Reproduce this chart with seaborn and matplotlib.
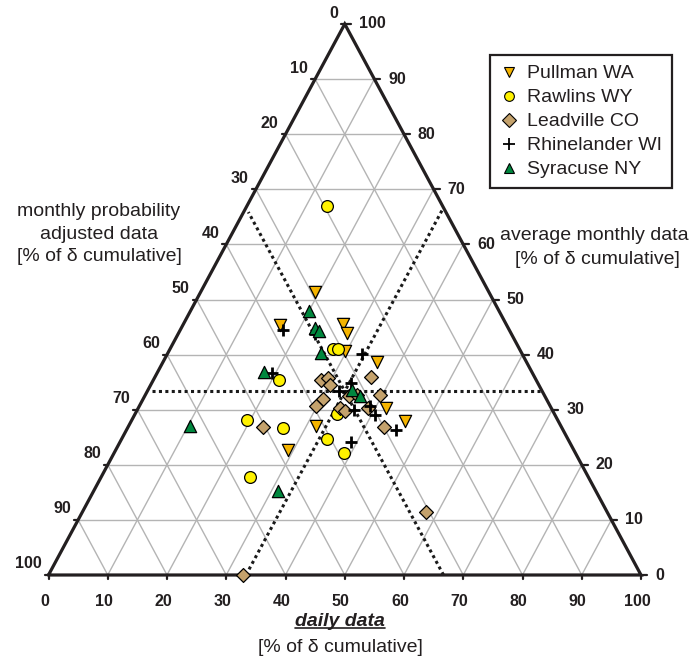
import numpy as np
import pandas as pd
import matplotlib
matplotlib.use("Agg")
import matplotlib.pyplot as plt
import seaborn as sns
from matplotlib.lines import Line2D
from matplotlib.transforms import IdentityTransform

sns.set_theme(style="white")
plt.rcParams['font.family'] = ['Liberation Sans', 'DejaVu Sans']

# ---------------- data (percent: daily D, monthly-probability M, average-monthly A)
stations = ["Pullman WA", "Rawlins WY", "Leadville CO", "Rhinelander WI", "Syracuse NY"]

pullman_D = [19.3, 16.3, 26.9, 28.4, 29.8, 36.1, 41.8, 46.2, 31.7, 29.1]
pullman_M = [29.4, 38.3, 27.5, 27.7, 29.6, 25.3, 27.9, 25.9, 41.3, 48.2]
pullman_A = [51.3, 45.4, 45.6, 43.9, 40.6, 38.6, 30.3, 27.9, 27.0, 22.7]

rawlins_D = [13.5, 27.6, 28.4, 21.2, 34.0, 19.4, 26.3, 34.6, 38.8, 25.1]
rawlins_M = [19.5, 31.4, 30.6, 43.4, 36.7, 52.4, 47.0, 40.7, 39.0, 57.1]
rawlins_A = [67.0, 41.0, 41.0, 35.4, 29.3, 28.2, 26.7, 24.7, 22.2, 17.8]

leadville_D = [28.3, 29.4, 30.3, 30.4, 29.9, 36.4, 39.7, 34.6, 35.8, 38.8, 34.0, 35.1, 43.1, 22.7, 58.0, 32.9]
leadville_M = [36.3, 34.9, 35.3, 37.6, 39.5, 27.6, 27.7, 33.0, 31.6, 30.9, 35.7, 35.1, 30.0, 50.4, 30.5, 67.1]
leadville_A = [35.4, 35.7, 34.4, 32.0, 30.6, 36.0, 32.6, 32.4, 32.6, 30.3, 30.3, 29.8, 26.9, 26.9, 11.5, 0.0]

rhine_D = [17.4, 23.0, 32.8, 19.5, 33.6, 32.4, 36.5, 39.0, 40.6, 45.5, 38.9]
rhine_M = [38.2, 33.2, 27.1, 43.9, 31.6, 34.2, 33.5, 30.4, 30.3, 28.1, 36.9]
rhine_A = [44.4, 43.8, 40.1, 36.6, 34.8, 33.4, 30.0, 30.6, 29.1, 26.4, 24.2]

syr_D = [20.1, 22.6, 23.6, 25.8, 17.9, 34.4, 36.3, 10.3, 31.0]
syr_M = [32.0, 32.5, 32.2, 33.9, 45.2, 32.0, 31.3, 62.6, 53.7]
syr_A = [47.9, 44.9, 44.2, 40.3, 36.9, 33.6, 32.4, 27.1, 15.3]

ticks = [0, 10, 20, 30, 40, 50, 60, 70, 80, 90, 100]
third = 100.0 / 3.0

colors = {"Pullman WA": "#F5B400", "Rawlins WY": "#FFF200", "Leadville CO": "#C4A26C",
          "Rhinelander WI": "#000000", "Syracuse NY": "#00873E"}
markers = {"Pullman WA": "v", "Rawlins WY": "o", "Leadville CO": "D",
           "Rhinelander WI": "+", "Syracuse NY": "^"}
sizes = {"Pullman WA": 78, "Rawlins WY": 72, "Leadville CO": 50,
         "Rhinelander WI": 70, "Syracuse NY": 78}


def tern(d, m, a):
    d = np.asarray(d, float); m = np.asarray(m, float); a = np.asarray(a, float)
    s = d + m + a
    d = 100 * d / s
    a = 100 * a / s
    return d + a / 2.0, a


frames = []
for name, (D, M, A) in zip(stations, [(pullman_D, pullman_M, pullman_A),
                                      (rawlins_D, rawlins_M, rawlins_A),
                                      (leadville_D, leadville_M, leadville_A),
                                      (rhine_D, rhine_M, rhine_A),
                                      (syr_D, syr_M, syr_A)]):
    x, y = tern(D, M, A)
    frames.append(pd.DataFrame({"x": x, "y": y, "station": name}))
df = pd.concat(frames, ignore_index=True)

# ---------------- figure
W, H = 689, 662
fig = plt.figure(figsize=(W / 100, H / 100), dpi=100)
ax = fig.add_axes([0, 0, 1, 1])
PX = 5.925  # pixels per unit x
PY = 5.51   # pixels per unit y
XLIM = (-48.5 / PX, (W - 48.5) / PX)
YLIM = ((575 - H) / PY, 575 / PY)

edge = "#231f20"
grid = "#b4b4b4"

# grid lines
for k in ticks[1:-1]:
    x, y = tern([0, 100 - k], [100 - k, 0], [k, k])
    ax.plot(x, y, color=grid, lw=1.0, zorder=1)
    x, y = tern([k, k], [100 - k, 0], [0, 100 - k])
    ax.plot(x, y, color=grid, lw=1.0, zorder=1)
    x, y = tern([100 - k, 0], [k, k], [0, 100 - k])
    ax.plot(x, y, color=grid, lw=1.0, zorder=1)

# triangle frame
x, y = tern([0, 100, 0, 0], [100, 0, 0, 100], [0, 0, 100, 0])
ax.plot(x, y, color=edge, lw=2.3, zorder=3, solid_joinstyle='miter')

# tick marks and labels
tfs = 11.5
for k in ticks:
    bx, by = tern([k], [100 - k], [0])
    ax.plot([bx[0], bx[0]], [by[0], by[0] - 4 / PY], color=edge, lw=1.6, zorder=3)
    ax.annotate(str(k), (bx[0], by[0]), xytext=(-4, -27), textcoords='offset pixels',
                ha='center', va='center', fontsize=tfs, fontweight='bold', color=edge)
    lx, ly = tern([0], [k], [100 - k])
    ax.plot([lx[0], lx[0] - 4 / PX], [ly[0], ly[0]], color=edge, lw=1.6, zorder=3)
    ax.annotate(str(k), (lx[0], ly[0]), xytext=(-7, 11), textcoords='offset pixels',
                ha='right', va='center', fontsize=tfs, fontweight='bold', color=edge)
    rx, ry = tern([100 - k], [0], [k])
    ax.plot([rx[0], rx[0] + 6 / PX], [ry[0], ry[0]], color=edge, lw=1.6, zorder=3)
    ax.annotate(str(k), (rx[0], ry[0]), xytext=(14, 0), textcoords='offset pixels',
                ha='left', va='center', fontsize=tfs, fontweight='bold', color=edge)

# dotted one-third lines
dot = dict(color="#1a1a1a", lw=2.2, ls=(0, (1, 1.1)), zorder=2, dash_capstyle='butt')
x, y = tern([0.8, 100 - third], [100 - third - 0.8, 0], [third, third])
ax.plot(x, y, **dot)
x, y = tern([third, third], [100 - third, 0], [0, 100 - third])
ax.plot(x, y, **dot)
x, y = tern([100 - third, 0.8], [third, third], [0, 100 - third - 0.8])
ax.plot(x, y, **dot)

# data points
for name in stations:
    sub = df[df.station == name]
    if markers[name] == "+":
        sns.scatterplot(data=sub, x="x", y="y", ax=ax, marker="+", color=colors[name],
                        s=sizes[name], linewidth=2.0, zorder=5, legend=False)
    else:
        sns.scatterplot(data=sub, x="x", y="y", ax=ax, marker=markers[name],
                        color=colors[name], edgecolor="black", linewidth=0.9,
                        s=sizes[name], zorder=5, legend=False)
ax.set_xlabel(""); ax.set_ylabel("")
ax.set_xlim(*XLIM)
ax.set_ylim(*YLIM)
ax.axis('off')

# legend
handles = []
for name in stations:
    if markers[name] == "+":
        h = Line2D([], [], ls='none', marker='+', color='black', ms=8, mew=1.3)
    else:
        h = Line2D([], [], ls='none', marker=markers[name], mfc=colors[name],
                   mec='black', mew=0.8, ms=7)
    handles.append(h)
leg = fig.legend(handles, stations, loc='upper left',
                 bbox_to_anchor=(490 / W, 1 - 55 / H), bbox_transform=fig.transFigure,
                 frameon=True, fancybox=False, edgecolor=edge, fontsize=14,
                 handlelength=1.0, handletextpad=0.4, labelspacing=0.33,
                 borderpad=0.5, borderaxespad=0, framealpha=1)
leg.get_frame().set_linewidth(1.6)
for t in leg.get_texts():
    t.set_color(edge)


def ftext(px, py, s, **kw):
    return fig.text(px / W, 1 - py / H, s, **kw)


tcol = "#231f20"
ftext(99, 234, "monthly probability\nadjusted data\n[% of δ cumulative]",
      ha='center', va='center', fontsize=14, color=tcol, linespacing=1.45)
ftext(594, 235, "average monthly data", ha='center', va='center', fontsize=14, color=tcol)
ftext(597, 259, "[% of δ cumulative]", ha='center', va='center', fontsize=14, color=tcol)
dt = ftext(340, 622, "daily data", ha='center', va='center', fontsize=14,
           fontweight='bold', fontstyle='italic', color=tcol)
ftext(340, 648, "[% of δ cumulative]", ha='center', va='center', fontsize=14, color=tcol)

fig.canvas.draw()
bb = dt.get_window_extent()
fig.add_artist(Line2D([bb.x0, bb.x1], [bb.y0 + 2.5, bb.y0 + 2.5], color=tcol, lw=1.2,
                      transform=IdentityTransform()))

fig.savefig("out.png", dpi=100)
